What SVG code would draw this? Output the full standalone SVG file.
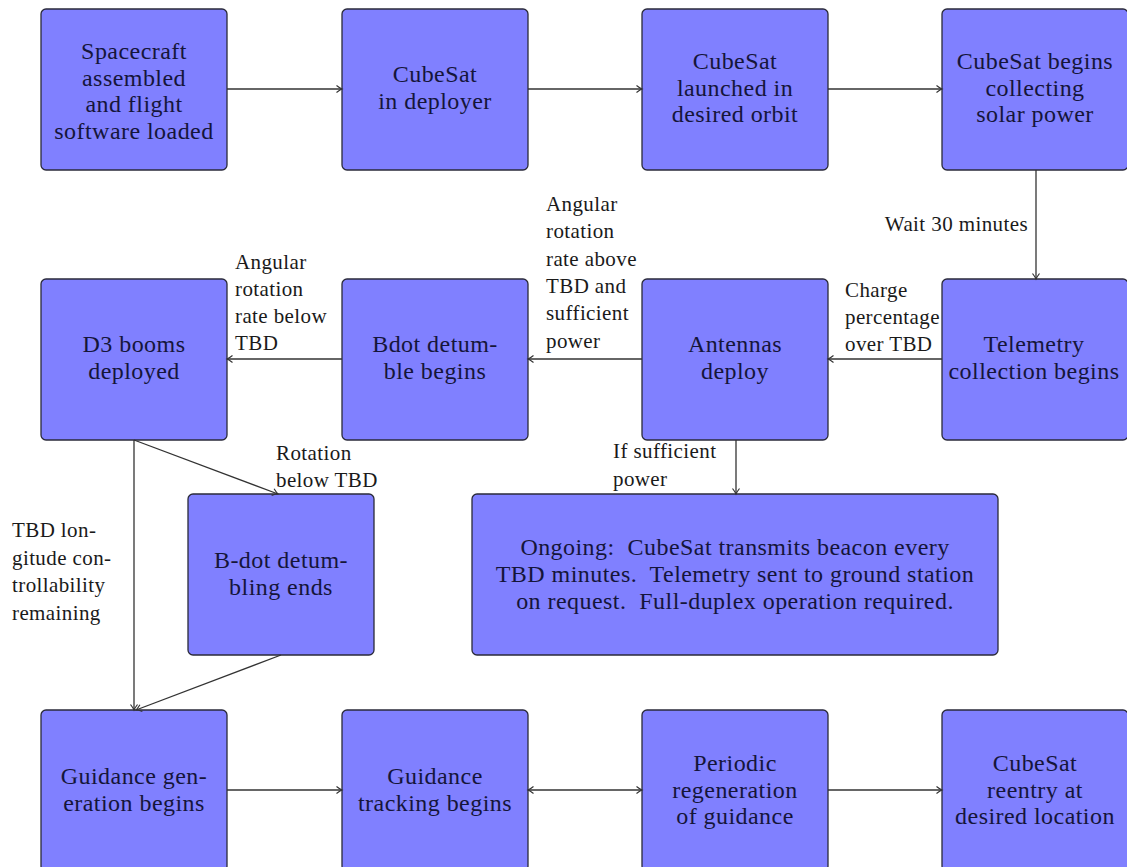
<svg xmlns="http://www.w3.org/2000/svg" width="1127" height="867" viewBox="0 0 1127 867">
<defs>
<style>
.box{fill:#8080ff;stroke:#2a2a3a;stroke-width:1.3}
.nt{font-size:24px;letter-spacing:0.45px;fill:#15153a;text-anchor:middle}
.lb{font-size:21px;letter-spacing:0.4px;fill:#1a1a1a}
.cn{stroke:#333;stroke-width:1.3;fill:none}
</style>
<marker id="ah" markerWidth="10" markerHeight="10" refX="8" refY="5" orient="auto-start-reverse" markerUnits="userSpaceOnUse">
<path d="M2.5,1.5 Q6,4.2 8,5 Q6,5.8 2.5,8.5" fill="none" stroke="#333" stroke-width="1.2"/>
</marker>
</defs>
<rect width="1127" height="867" fill="#ffffff"/>
<g font-family="Liberation Serif">
<g id="n1"><rect class="box" x="41" y="9" width="186" height="161" rx="5"/>
<text class="nt"><tspan x="134" y="59">Spacecraft</tspan><tspan x="134" y="85.5">assembled</tspan><tspan x="134" y="112">and flight</tspan><tspan x="134" y="138.5">software loaded</tspan></text></g>

<g id="n2"><rect class="box" x="342" y="9" width="186" height="161" rx="5"/>
<text class="nt"><tspan x="435" y="82">CubeSat</tspan><tspan x="435" y="108.5">in deployer</tspan></text></g>

<g id="n3"><rect class="box" x="642" y="9" width="186" height="161" rx="5"/>
<text class="nt"><tspan x="735" y="69">CubeSat</tspan><tspan x="735" y="95.5">launched in</tspan><tspan x="735" y="122">desired orbit</tspan></text></g>

<g id="n4"><rect class="box" x="942" y="9" width="186" height="161" rx="5"/>
<text class="nt"><tspan x="1035" y="69">CubeSat begins</tspan><tspan x="1035" y="95.5">collecting</tspan><tspan x="1035" y="122">solar power</tspan></text></g>

<g id="n5"><rect class="box" x="942" y="279" width="186" height="161" rx="5"/>
<text class="nt"><tspan x="1034" y="352">Telemetry</tspan><tspan x="1034" y="378.5">collection begins</tspan></text></g>

<g id="n6"><rect class="box" x="642" y="279" width="186" height="161" rx="5"/>
<text class="nt"><tspan x="735" y="352">Antennas</tspan><tspan x="735" y="378.5">deploy</tspan></text></g>

<g id="n7"><rect class="box" x="342" y="279" width="186" height="161" rx="5"/>
<text class="nt"><tspan x="435" y="352">Bdot detum-</tspan><tspan x="435" y="378.5">ble begins</tspan></text></g>

<g id="n8"><rect class="box" x="41" y="279" width="186" height="161" rx="5"/>
<text class="nt"><tspan x="134" y="352">D3 booms</tspan><tspan x="134" y="378.5">deployed</tspan></text></g>

<g id="n9"><rect class="box" x="188" y="494" width="186" height="161" rx="5"/>
<text class="nt"><tspan x="281" y="568">B-dot detum-</tspan><tspan x="281" y="594.5">bling ends</tspan></text></g>

<g id="n10"><rect class="box" x="472" y="494" width="526" height="161" rx="5"/>
<text class="nt" xml:space="preserve"><tspan x="735" y="555">Ongoing:  CubeSat transmits beacon every</tspan><tspan x="735" y="582">TBD minutes.  Telemetry sent to ground station</tspan><tspan x="735" y="609">on request.  Full-duplex operation required.</tspan></text></g>

<g id="n11"><rect class="box" x="41" y="710" width="186" height="161" rx="5"/>
<text class="nt"><tspan x="134" y="784">Guidance gen-</tspan><tspan x="134" y="810.5">eration begins</tspan></text></g>

<g id="n12"><rect class="box" x="342" y="710" width="186" height="161" rx="5"/>
<text class="nt"><tspan x="435" y="784">Guidance</tspan><tspan x="435" y="810.5">tracking begins</tspan></text></g>

<g id="n13"><rect class="box" x="642" y="710" width="186" height="161" rx="5"/>
<text class="nt"><tspan x="735" y="771">Periodic</tspan><tspan x="735" y="797.5">regeneration</tspan><tspan x="735" y="824">of guidance</tspan></text></g>

<g id="n14"><rect class="box" x="942" y="710" width="186" height="161" rx="5"/>
<text class="nt"><tspan x="1035" y="771">CubeSat</tspan><tspan x="1035" y="797.5">reentry at</tspan><tspan x="1035" y="824">desired location</tspan></text></g>

<g id="connectors">
<line class="cn" x1="227" y1="89" x2="342" y2="89" marker-end="url(#ah)"/>
<line class="cn" x1="528" y1="89" x2="642" y2="89" marker-end="url(#ah)"/>
<line class="cn" x1="828" y1="89" x2="942" y2="89" marker-end="url(#ah)"/>
<line class="cn" x1="1036" y1="170" x2="1036" y2="279" marker-end="url(#ah)"/>
<line class="cn" x1="942" y1="359" x2="828" y2="359" marker-end="url(#ah)"/>
<line class="cn" x1="642" y1="359" x2="528" y2="359" marker-end="url(#ah)"/>
<line class="cn" x1="342" y1="359" x2="227" y2="359" marker-end="url(#ah)"/>
<line class="cn" x1="736" y1="440" x2="736" y2="494" marker-end="url(#ah)"/>
<line class="cn" x1="134" y1="440" x2="278" y2="494" marker-end="url(#ah)"/>
<line class="cn" x1="134" y1="440" x2="134" y2="710" marker-end="url(#ah)"/>
<line class="cn" x1="281" y1="655" x2="136" y2="710" marker-end="url(#ah)"/>
<line class="cn" x1="227" y1="790" x2="342" y2="790" marker-end="url(#ah)"/>
<line class="cn" x1="528" y1="790" x2="642" y2="790" marker-start="url(#ah)" marker-end="url(#ah)"/>
<line class="cn" x1="828" y1="790" x2="942" y2="790" marker-end="url(#ah)"/>
</g>

<g id="labels">
<text class="lb" x="1028" y="231" text-anchor="end">Wait 30 minutes</text>
<text class="lb"><tspan x="546" y="211">Angular</tspan><tspan x="546" y="238">rotation</tspan><tspan x="546" y="266">rate above</tspan><tspan x="546" y="293">TBD and</tspan><tspan x="546" y="320">sufficient</tspan><tspan x="546" y="348">power</tspan></text>
<text class="lb"><tspan x="845" y="297">Charge</tspan><tspan x="845" y="324">percentage</tspan><tspan x="845" y="351">over TBD</tspan></text>
<text class="lb"><tspan x="235" y="269">Angular</tspan><tspan x="235" y="296">rotation</tspan><tspan x="235" y="323">rate below</tspan><tspan x="235" y="350">TBD</tspan></text>
<text class="lb"><tspan x="276" y="460">Rotation</tspan><tspan x="276" y="487">below TBD</tspan></text>
<text class="lb"><tspan x="613" y="458">If sufficient</tspan><tspan x="613" y="486">power</tspan></text>
<text class="lb"><tspan x="12" y="537">TBD lon-</tspan><tspan x="12" y="565">gitude con-</tspan><tspan x="12" y="592">trollability</tspan><tspan x="12" y="620">remaining</tspan></text>
</g>
</g>
</svg>
